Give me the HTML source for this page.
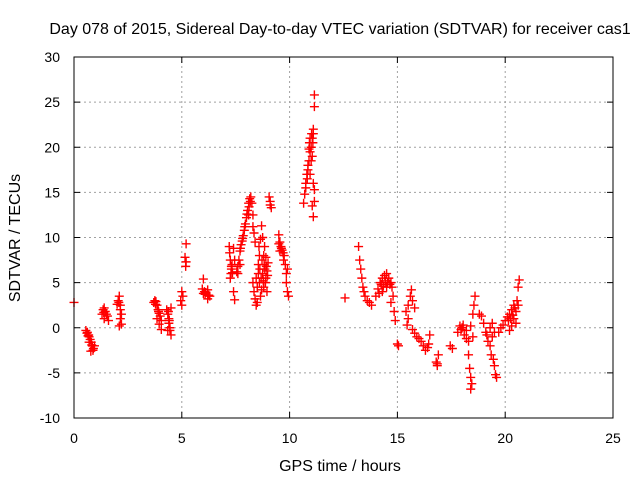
<!DOCTYPE html>
<html><head><meta charset="utf-8"><style>
html,body{margin:0;padding:0;background:#fff}
svg{display:block;font-family:"Liberation Sans",sans-serif}
</style></head><body>
<svg id="chart" width="640" height="480">
<text x="340" y="34" font-size="16" text-anchor="middle">Day 078 of 2015, Sidereal Day-to-day VTEC variation (SDTVAR) for receiver cas1</text>
<text x="340" y="471" font-size="16" text-anchor="middle">GPS time / hours</text>
<text transform="translate(20,238) rotate(-90)" font-size="16" text-anchor="middle">SDTVAR / TECUs</text>
<g id="grid"></g>
<g id="marks"></g>
<rect x="74" y="57" width="539" height="361" fill="none" stroke="#000" stroke-width="1"/>
</svg>
<script>
const xTicks=[0,5,10,15,20,25];
const yTicks=[-10,-5,0,5,10,15,20,25,30];
const times=[0.0,0.55,0.6,0.65,0.7,0.75,0.8,0.85,0.9,0.95,0.78,0.62,0.7,0.68,0.82,0.88,
1.3,1.35,1.4,1.45,1.5,1.4,1.6,1.55,1.38,
2.0,2.05,2.1,2.15,2.2,2.15,2.2,2.1,2.15,2.08,
3.7,3.75,3.8,3.85,3.9,3.95,4.0,4.05,3.95,4.05,3.85,3.78,3.92,
4.3,4.35,4.4,4.45,4.5,4.35,4.4,4.5,4.45,4.42,4.38,
4.95,5.0,5.05,5.0,5.2,5.15,5.2,5.18,
6.0,5.95,6.0,6.05,6.1,6.2,6.25,6.3,6.2,6.08,
7.2,7.22,7.25,7.3,7.25,7.3,7.4,7.45,7.35,7.4,7.45,7.28,7.33,
7.55,7.6,7.65,7.7,7.75,7.8,7.85,7.9,7.95,8.0,8.05,8.1,8.15,8.2,8.25,8.3,7.6,7.7,8.1,7.72,7.82,7.92,8.02,8.12,8.18,
8.3,8.35,8.4,8.3,8.35,8.4,8.45,8.5,8.55,8.6,8.65,8.7,8.75,8.8,8.85,8.9,8.95,9.0,8.6,8.7,8.8,8.75,8.9,8.5,8.45,8.65,8.95,8.55,8.62,8.68,8.72,8.78,8.82,8.88,8.92,8.98,8.58,8.84,
9.05,9.1,9.15,9.1,
9.5,9.55,9.6,9.65,9.7,9.75,9.8,9.85,9.85,9.9,9.95,9.9,9.55,9.5,9.62,9.72,
10.65,10.7,10.75,10.8,10.85,10.9,10.95,11.0,11.05,11.1,11.15,11.15,10.75,10.85,10.9,10.95,11.0,11.05,11.1,11.15,11.15,11.1,11.05,10.95,11.1,10.82,10.92,11.02,11.08,
12.57,
13.2,13.25,13.3,13.35,13.4,13.45,13.5,13.6,13.7,13.8,
14.0,14.1,14.2,14.3,14.4,14.5,14.6,14.7,14.75,14.8,14.3,14.5,14.7,14.85,14.9,15.0,15.05,14.15,14.25,14.35,14.45,14.55,14.65,
15.4,15.5,15.6,15.7,15.8,15.65,15.5,15.45,15.7,15.8,15.9,16.0,16.1,16.2,16.3,16.4,16.5,16.45,
16.8,16.85,16.9,16.85,17.45,17.55,
17.8,17.9,18.0,18.1,18.2,18.3,18.4,18.5,18.6,18.55,18.3,18.35,18.4,18.45,18.4,18.5,18.2,17.95,18.05,
18.8,18.9,19.0,19.1,19.2,19.3,19.4,19.5,19.35,19.45,19.5,19.55,19.6,19.3,19.4,19.15,
19.7,19.8,19.9,20.0,20.1,20.2,20.3,20.4,20.5,20.55,20.6,20.65,20.6,20.5,20.3,20.2,20.4,20.15,20.25,20.35,20.45];
const values=[2.8,-0.3,-0.6,-0.9,-1.0,-1.3,-1.6,-2.0,-2.3,-2.0,-2.6,-0.5,-1.6,-0.8,-1.9,-2.5,
1.5,2.0,2.2,1.8,1.5,1.0,0.8,1.3,1.7,
2.6,3.0,3.5,2.5,1.5,1.0,0.4,0.2,2.0,2.8,
2.8,3.0,2.9,2.5,2.0,1.6,1.3,0.8,0.4,-0.2,1.0,2.6,1.8,
2.0,1.5,0.5,-0.3,-0.8,-0.3,1.0,2.2,0.0,0.8,1.8,
3.0,4.0,3.5,2.5,9.3,7.8,7.3,6.8,
5.4,4.3,3.8,4.0,3.9,4.2,3.6,3.5,3.2,3.7,
9.0,8.3,7.5,6.5,5.5,6.8,8.8,7.5,6.1,4.0,3.1,6.0,7.0,
6.2,6.8,7.5,8.5,9.2,9.6,10.2,10.8,11.5,12.2,13.0,13.8,14.3,14.5,13.8,12.5,6.0,7.0,12.5,8.8,9.9,11.2,12.6,13.4,14.0,
11.2,10.5,9.5,5.0,4.0,3.2,2.5,4.5,6.0,8.0,9.8,11.3,10.0,8.0,6.5,5.5,6.3,7.2,5.0,4.2,4.5,6.0,7.8,2.8,5.5,3.5,4.0,7.0,6.5,5.5,7.5,5.2,7.0,5.0,6.8,5.8,9.0,9.0,
14.5,14.0,13.3,13.6,
10.3,9.5,9.0,8.6,8.3,8.0,7.0,6.0,5.0,4.0,3.5,6.5,8.5,9.3,8.8,7.5,
13.8,14.8,16.0,17.0,18.0,18.5,19.5,20.0,21.0,22.0,24.5,25.8,15.5,17.5,19.8,17.0,18.5,19.0,16.0,15.3,14.0,12.3,13.5,21.0,21.5,16.5,20.5,21.5,20.5,
3.3,
9.0,7.5,6.5,5.5,4.5,4.0,3.5,3.0,2.8,2.5,
3.5,4.3,5.0,5.5,5.8,6.0,5.5,5.0,4.5,3.5,4.0,4.5,2.8,1.8,0.8,-1.8,-2.0,3.8,4.8,4.6,5.2,5.0,4.8,
1.8,2.5,3.5,3.0,2.2,4.2,1.0,0.3,-0.2,-0.6,-1.0,-1.2,-1.5,-2.0,-2.5,-2.2,-0.8,-1.8,
-3.8,-4.2,-3.0,-4.0,-2.0,-2.3,
-0.5,0.2,0.0,-0.8,-1.2,-1.5,0.2,1.5,3.5,2.5,-3.0,-4.5,-5.5,-6.2,-6.8,-1.0,-0.3,-0.2,0.3,
1.5,1.3,0.5,-0.5,-1.5,-2.0,-1.0,-0.5,-3.0,-3.5,-4.2,-5.2,-5.5,0.0,0.5,-0.8,
-0.5,0.0,0.3,0.8,1.2,1.5,2.0,1.0,1.8,3.0,4.5,5.3,2.5,0.5,0.2,-0.3,2.5,0.8,1.0,1.4,2.2];

const X0=74,X1=613,Y0=418,Y1=57;
function sx(t){return X0+(t-0)/(25-0)*(X1-X0);}
function sy(v){return Y0-(v+10)/40*(Y0-Y1);}
const NS='http://www.w3.org/2000/svg';
const svg=document.getElementById('chart');
const grid=document.getElementById('grid');
const marks=document.getElementById('marks');
function mk(tag,attrs,parent){const e=document.createElementNS(NS,tag);for(const k in attrs)e.setAttribute(k,attrs[k]);parent.appendChild(e);return e;}
xTicks.forEach(t=>{
  const x=sx(t);
  if(t>0&&t<25){const g=mk('line',{x1:x,y1:Y0,x2:x,y2:Y1,stroke:'#a0a0a0','stroke-dasharray':'2,3'},grid);
  
  }
  const tk=mk('path',{d:`M${x},${Y0}v-6M${x},${Y1}v6`,stroke:'#000'},grid);
  
  
  const lb=mk('text',{x:x,y:443,'font-size':14,'text-anchor':'middle'},svg);
  lb.textContent=t;
  
  
});
yTicks.forEach(v=>{
  const y=sy(v);
  if(v>-10&&v<30){const g=mk('line',{x1:X0,y1:y,x2:X1,y2:y,stroke:'#a0a0a0','stroke-dasharray':'2,3'},grid);
  
  }
  const tk=mk('path',{d:`M${X0},${y}h6M${X1},${y}h-6`,stroke:'#000'},grid);
  
  
  const lb=mk('text',{x:60,y:y+5,'font-size':14,'text-anchor':'end'},svg);
  lb.textContent=v;
  
  
});
times.forEach((t,i)=>{
  const x=sx(t),y=sy(values[i]);
  const p=mk('path',{d:`M${x-4.5},${y}h9M${x},${y-4.5}v9`,stroke:'#ff0000','stroke-width':1.4},marks);
  
  
});
</script>
</body></html>
